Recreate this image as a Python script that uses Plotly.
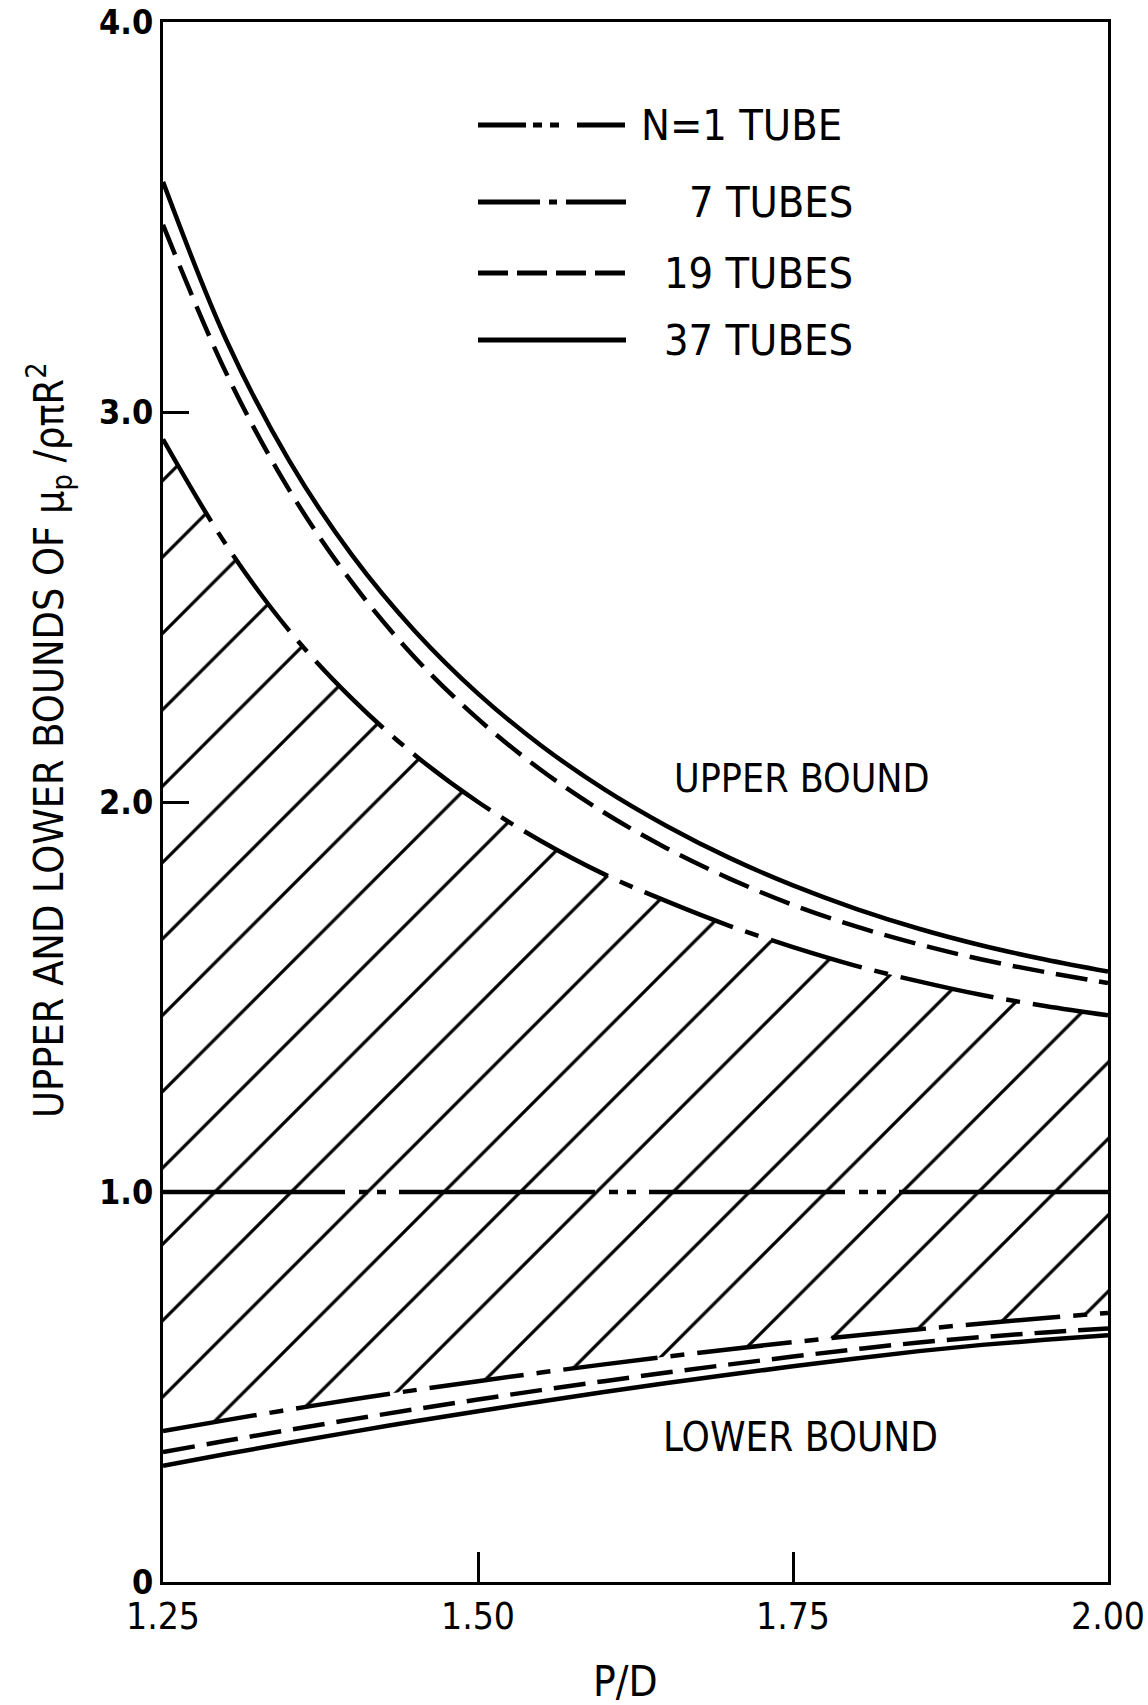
import plotly.graph_objects as go

# P/D values at which the bound curves are tabulated
pd_ratio = [1.25, 1.30, 1.35, 1.40, 1.45, 1.50, 1.55, 1.60,
            1.65, 1.70, 1.75, 1.80, 1.85, 1.90, 1.95, 2.00]

# Upper bounds of mu_p / (rho pi R^2)
upper_37 = [3.59, 3.186, 2.876, 2.633, 2.438, 2.278, 2.145, 2.033,
            1.938, 1.856, 1.786, 1.726, 1.675, 1.632, 1.596, 1.565]
upper_19 = [3.48, 3.101, 2.801, 2.563, 2.37, 2.213, 2.082, 1.973,
            1.881, 1.803, 1.736, 1.681, 1.635, 1.596, 1.564, 1.536]
upper_7 = [2.93, 2.66, 2.44, 2.265, 2.12, 2.0, 1.9, 1.815,
           1.745, 1.682, 1.628, 1.58, 1.54, 1.505, 1.477, 1.453]

# Lower bounds of mu_p / (rho pi R^2)
lower_7 = [0.387, 0.415, 0.442, 0.468, 0.492, 0.515, 0.537, 0.558,
           0.578, 0.597, 0.615, 0.632, 0.648, 0.663, 0.677, 0.69]
lower_19 = [0.333, 0.362, 0.39, 0.417, 0.443, 0.468, 0.492, 0.515,
            0.537, 0.558, 0.578, 0.597, 0.614, 0.628, 0.64, 0.65]
lower_37 = [0.298, 0.328, 0.357, 0.385, 0.412, 0.438, 0.463, 0.487,
            0.51, 0.532, 0.553, 0.573, 0.592, 0.608, 0.621, 0.633]

# Single tube: both bounds equal 1
single_x = [1.25, 2.00]
single_y = [1.0, 1.0]

x_ticks = [1.25, 1.50, 1.75, 2.00]
x_tick_text = ["1.25", "1.50", "1.75", "2.00"]
y_ticks = [0, 1, 2, 3, 4]
y_tick_text = ["0", "1.0", "2.0", "3.0", "4.0"]

legend_labels = ["N=1 TUBE", "7 TUBES", "19 TUBES", "37 TUBES"]

FONT = "Liberation Sans Narrow, DejaVu Sans Condensed, Liberation Sans, sans-serif"
INK = "black"
LW = 4.5

# long dash followed by two dots; first dash shortened to set the phase
DOTS = "14px,9px,9px,9px,13px"
DASH_N1 = ",".join(["182px", DOTS, "196px", DOTS, "196px", DOTS, "400px"])
DASH_7 = "95px,13px,14px,13px"
DASH_19 = "32px,12px"

fig = go.Figure()

# 7-tube lower bound, then 7-tube upper bound filled down to it with hatching
fig.add_trace(go.Scatter(
    x=pd_ratio, y=lower_7, mode="lines",
    line=dict(color=INK, width=LW, dash=DASH_7, shape="spline"),
))
fig.add_trace(go.Scatter(
    x=pd_ratio, y=upper_7, mode="lines", fill="tonexty",
    fillcolor="rgba(0,0,0,0)",
    fillpattern=dict(shape="/", size=54, solidity=0.06,
                     fgcolor=INK, bgcolor="rgba(0,0,0,0)", fillmode="replace"),
    line=dict(color=INK, width=LW, dash=DASH_7, shape="spline"),
))

for ys, dash in [(upper_19, DASH_19), (lower_19, DASH_19),
                 (upper_37, "solid"), (lower_37, "solid")]:
    fig.add_trace(go.Scatter(
        x=pd_ratio, y=ys, mode="lines",
        line=dict(color=INK, width=LW, dash=dash, shape="spline"),
    ))

fig.add_trace(go.Scatter(
    x=single_x, y=single_y, mode="lines",
    line=dict(color=INK, width=LW, dash=DASH_N1),
))

# Key: short line samples drawn on an overlay axis spanning the plot area
PLOT_L, PLOT_W, PLOT_B, PLOT_H = 163, 945, 1582, 1560
key_x = [(478 - PLOT_L) / PLOT_W, (626 - PLOT_L) / PLOT_W]
key_rows = [(PLOT_B - r) / PLOT_H for r in (125, 202, 273, 340)]
key_dashes = ["48px,7px,9px,8px,9px,18px", "62px,9px,8px,9px", "30px,9px", "solid"]
for yk, dash in zip(key_rows, key_dashes):
    fig.add_trace(go.Scatter(
        x=key_x, y=[yk, yk], mode="lines", xaxis="x2", yaxis="y2",
        line=dict(color=INK, width=5, dash=dash),
    ))

annotations = []
key_font = dict(family=FONT, size=43, color=INK)
annotations.append(dict(x=(639 - PLOT_L) / PLOT_W, y=key_rows[0], xref="paper", yref="paper",
                        text=legend_labels[0], showarrow=False, xanchor="left",
                        yanchor="middle", font=key_font))
for label, yk in zip(legend_labels[1:], key_rows[1:]):
    annotations.append(dict(x=(855 - PLOT_L) / PLOT_W, y=yk, xref="paper", yref="paper",
                            text=label, showarrow=False, xanchor="right",
                            yanchor="middle", font=key_font))

annotations.append(dict(x=1.757, y=2.06, xref="x", yref="y", text="UPPER BOUND",
                        showarrow=False, font=dict(family=FONT, size=39, color=INK)))
annotations.append(dict(x=1.756, y=0.372, xref="x", yref="y", text="LOWER BOUND",
                        showarrow=False, font=dict(family=FONT, size=40, color=INK)))

annotations.append(dict(
    x=(49 - PLOT_L) / PLOT_W, y=(PLOT_B - 740) / PLOT_H, xref="paper", yref="paper",
    text="UPPER AND LOWER BOUNDS OF \u03bc<sub>p</sub> /\u03c1\u03c0R<sup>2</sup>",
    textangle=-90, showarrow=False, xanchor="center", yanchor="middle",
    font=dict(family=FONT, size=41, color=INK),
))
annotations.append(dict(
    x=(625 - PLOT_L) / PLOT_W, y=(PLOT_B - 1681) / PLOT_H, xref="paper", yref="paper",
    text="P/D", showarrow=False, xanchor="center", yanchor="middle",
    font=dict(family=FONT, size=42, color=INK),
))

fig.update_layout(
    width=1148, height=1705,
    margin=dict(l=163, r=40, t=22, b=123),
    paper_bgcolor="white", plot_bgcolor="white",
    showlegend=False,
    annotations=annotations,
    xaxis=dict(
        range=[1.25, 2.00], tickvals=x_ticks, ticktext=x_tick_text,
        ticks="inside", ticklen=30, tickwidth=2.5, tickcolor=INK,
        showline=True, linecolor=INK, linewidth=3, mirror=True,
        showgrid=False, zeroline=False, automargin=False,
        ticklabeloverflow="allow",
        tickfont=dict(family=FONT, size=37, color=INK),
    ),
    yaxis=dict(
        range=[0, 4], tickvals=y_ticks, ticktext=y_tick_text,
        ticks="inside", ticklen=26, tickwidth=2.5, tickcolor=INK,
        showline=True, linecolor=INK, linewidth=3, mirror=True,
        showgrid=False, zeroline=False, automargin=False,
        ticklabeloverflow="allow",
        tickfont=dict(family=FONT, size=34, color=INK, weight="bold"),
    ),
    xaxis2=dict(overlaying="x", anchor="y2", range=[0, 1], visible=False),
    yaxis2=dict(overlaying="y", anchor="x2", range=[0, 1], visible=False),
)

fig.write_html("out.html")
